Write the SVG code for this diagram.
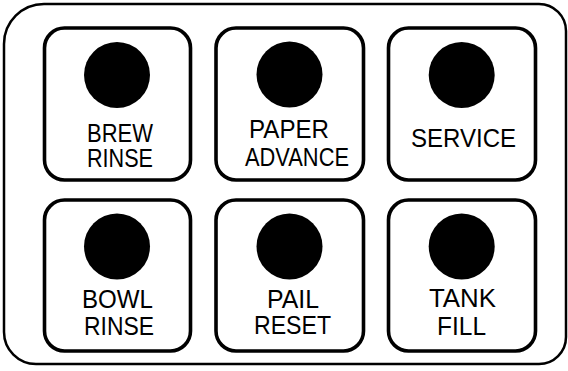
<svg xmlns="http://www.w3.org/2000/svg" width="568" height="371" viewBox="0 0 568 371">
<style>
.frame{fill:#fff;stroke:#000;stroke-width:2.5}
.box{fill:#fff;stroke:#000;stroke-width:3.6}
.dot{fill:#000}
.lbl{font-family:"Liberation Sans",Arial,sans-serif;font-size:26px;fill:#000;text-anchor:middle}
</style>
<rect width="568" height="371" fill="#fff"/>
<path class="frame" d="M44 4 H539 A27 27 0 0 1 566 31 V337 A27 27 0 0 1 539 364 H36 A32 32 0 0 1 4 332 V44 A40 40 0 0 1 44 4 Z"/>
<g id="brew-rinse">
<rect class="box" x="44.5" y="28" width="146" height="152" rx="20"/>
<circle class="dot" cx="117" cy="75" r="33"/>
<text class="lbl" x="120" y="142" textLength="66" lengthAdjust="spacingAndGlyphs">BREW</text>
<text class="lbl" x="120" y="167" textLength="66" lengthAdjust="spacingAndGlyphs">RINSE</text>
</g>
<g id="paper-advance">
<rect class="box" x="216" y="28" width="147.5" height="152" rx="20"/>
<circle class="dot" cx="289.5" cy="74.5" r="33"/>
<text class="lbl" x="289" y="138" textLength="80" lengthAdjust="spacingAndGlyphs">PAPER</text>
<text class="lbl" x="297" y="166" textLength="104" lengthAdjust="spacingAndGlyphs">ADVANCE</text>
</g>
<g id="service">
<rect class="box" x="388.5" y="28" width="147" height="152" rx="20"/>
<circle class="dot" cx="461.7" cy="75" r="33"/>
<text class="lbl" x="463.5" y="147" textLength="105" lengthAdjust="spacingAndGlyphs">SERVICE</text>
</g>
<g id="bowl-rinse">
<rect class="box" x="44.5" y="200" width="146" height="151" rx="20"/>
<circle class="dot" cx="117" cy="246.5" r="33"/>
<text class="lbl" x="117.5" y="308" textLength="71" lengthAdjust="spacingAndGlyphs">BOWL</text>
<text class="lbl" x="119" y="335" textLength="70" lengthAdjust="spacingAndGlyphs">RINSE</text>
</g>
<g id="pail-reset">
<rect class="box" x="216" y="200" width="147.5" height="151" rx="20"/>
<circle class="dot" cx="289.5" cy="246.5" r="33"/>
<text class="lbl" x="293" y="308" textLength="52" lengthAdjust="spacingAndGlyphs">PAIL</text>
<text class="lbl" x="292.5" y="333.5" textLength="77" lengthAdjust="spacingAndGlyphs">RESET</text>
</g>
<g id="tank-fill">
<rect class="box" x="388.5" y="200" width="147" height="151" rx="20"/>
<circle class="dot" cx="461.7" cy="246.5" r="33"/>
<text class="lbl" x="462.5" y="307" textLength="67" lengthAdjust="spacingAndGlyphs">TANK</text>
<text class="lbl" x="461.5" y="335" textLength="49" lengthAdjust="spacingAndGlyphs">FILL</text>
</g>
<g id="connectors"/>
</svg>
